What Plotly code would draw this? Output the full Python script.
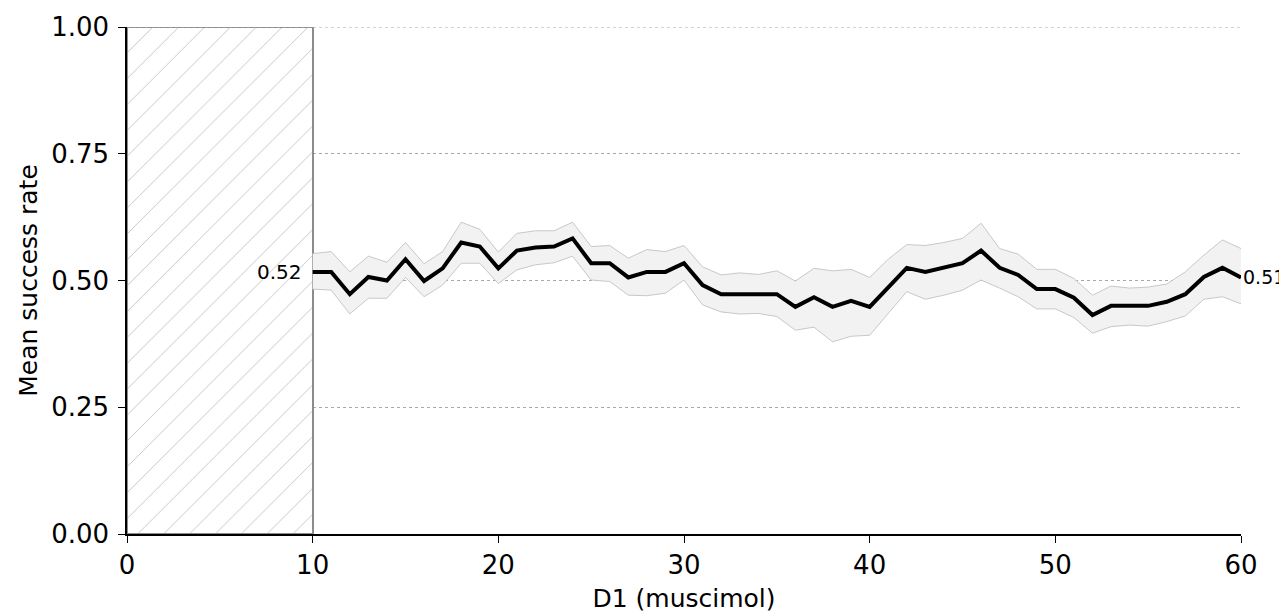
import plotly.graph_objects as go

# sessions (x) and the mean success rate with its band
sessions = list(range(10, 61))
mean_rate = [0.517, 0.517, 0.473, 0.507, 0.500, 0.542, 0.499, 0.524, 0.575, 0.567,
             0.524, 0.559, 0.565, 0.567, 0.583, 0.534, 0.534, 0.506, 0.517, 0.517,
             0.534, 0.491, 0.473, 0.473, 0.473, 0.473, 0.448, 0.467, 0.448, 0.460,
             0.448, 0.487, 0.525, 0.517, 0.525, 0.534, 0.559, 0.525, 0.511, 0.483,
             0.483, 0.466, 0.432, 0.450, 0.450, 0.450, 0.458, 0.473, 0.507, 0.525,
             0.506]
upper_rate = [0.553, 0.557, 0.517, 0.548, 0.536, 0.575, 0.533, 0.557, 0.615, 0.601,
              0.556, 0.593, 0.598, 0.598, 0.615, 0.567, 0.569, 0.544, 0.561, 0.557,
              0.569, 0.527, 0.511, 0.515, 0.512, 0.519, 0.499, 0.524, 0.519, 0.522,
              0.506, 0.542, 0.571, 0.569, 0.575, 0.583, 0.613, 0.563, 0.552, 0.522,
              0.522, 0.504, 0.471, 0.489, 0.485, 0.487, 0.493, 0.517, 0.550, 0.580,
              0.563]
lower_rate = [0.483, 0.481, 0.434, 0.465, 0.465, 0.506, 0.468, 0.491, 0.534, 0.534,
              0.494, 0.521, 0.531, 0.535, 0.548, 0.501, 0.498, 0.471, 0.470, 0.475,
              0.501, 0.452, 0.438, 0.434, 0.435, 0.429, 0.402, 0.408, 0.379, 0.390,
              0.392, 0.435, 0.478, 0.463, 0.471, 0.481, 0.501, 0.485, 0.468, 0.444,
              0.444, 0.427, 0.396, 0.409, 0.412, 0.410, 0.419, 0.430, 0.463, 0.468,
              0.454]

masked_until = 10   # first sessions hidden by the hatched box
x_max = 60
y_ticks = [0, 0.25, 0.5, 0.75, 1.0]
x_ticks = [0, 10, 20, 30, 40, 50, 60]

FONT = "DejaVu Sans, sans-serif"
GRID = "#a8a8a8"

fig = go.Figure()

# hatched block over the masked sessions
fig.add_trace(go.Bar(
    x=[masked_until / 2], y=[1.0], width=[masked_until],
    marker=dict(color="white",
                line=dict(color="#8c8c8c", width=2),
                pattern=dict(shape="/", size=18.3, solidity=0.04,
                             fgcolor="#6a6a6a", bgcolor="white")),
    hoverinfo="skip", showlegend=False,
))

# band
fig.add_trace(go.Scatter(
    x=sessions, y=lower_rate, mode="lines",
    line=dict(color="#c8c8c8", width=1),
    hoverinfo="skip", showlegend=False,
))
fig.add_trace(go.Scatter(
    x=sessions, y=upper_rate, mode="lines", fill="tonexty",
    fillcolor="#f2f2f2", line=dict(color="#c8c8c8", width=1),
    hoverinfo="skip", showlegend=False,
))

# mean line
fig.add_trace(go.Scatter(
    x=sessions, y=mean_rate, mode="lines",
    line=dict(color="black", width=4),
    showlegend=False,
))

# top grid line (plotly drops the one on the range edge)
fig.add_hline(y=y_ticks[-1], line=dict(color=GRID, width=1, dash="dot"))

# start / end value labels
fig.add_annotation(x=sessions[0], y=mean_rate[0], text=f"{mean_rate[0]:.2f}",
                   xanchor="right", yanchor="middle", xshift=-9, showarrow=False,
                   font=dict(family=FONT, size=20, color="black"))
fig.add_annotation(x=sessions[-1], y=mean_rate[-1], text=f"{mean_rate[-1]:.2f}",
                   xanchor="left", yanchor="middle", xshift=0, showarrow=False,
                   font=dict(family=FONT, size=19, color="black"))

fig.update_layout(
    width=1279, height=605,
    margin=dict(l=119, r=46, t=19, b=79),
    plot_bgcolor="white", paper_bgcolor="white",
    font=dict(family=FONT, size=26, color="black"),
    bargap=0,
)
fig.update_xaxes(
    range=[0, x_max], tickvals=x_ticks, ticks="outside", ticklen=7,
    tickcolor="black", showline=True, linecolor="black", linewidth=1.5,
    showgrid=False, zeroline=False, automargin=False,
    title=dict(text="D1 (muscimol)", font=dict(size=25), standoff=13),
)
fig.update_yaxes(
    range=[0, 1], tickvals=y_ticks, tickformat=".2f", ticks="outside", ticklen=7,
    tickcolor="black", showline=True, linecolor="black", linewidth=1.5,
    showgrid=True, gridcolor=GRID, griddash="dot", gridwidth=1,
    zeroline=False, ticklabelstandoff=4, automargin=False,
    title=dict(text="Mean success rate", font=dict(size=25), standoff=6),
)

fig.write_html("out.html")
